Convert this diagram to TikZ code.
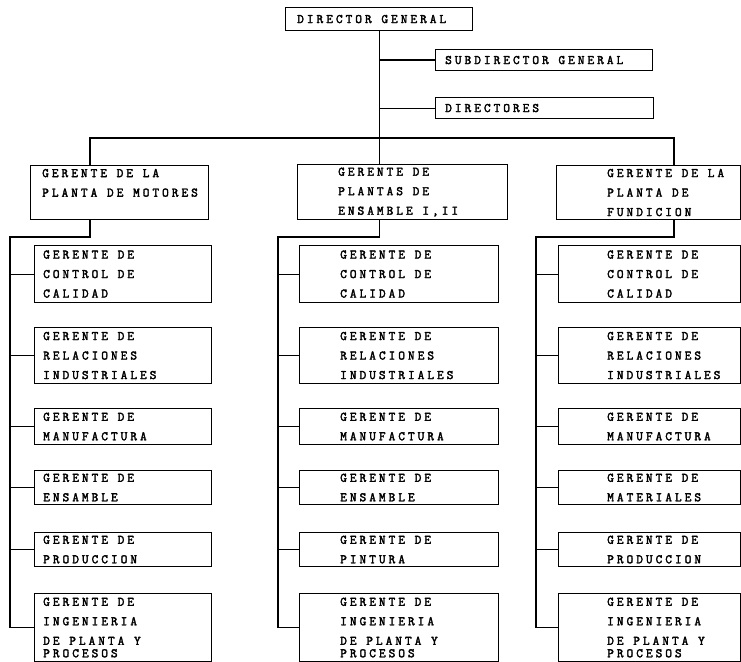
\documentclass[tikz,border=0pt]{standalone}
\usepackage{fontspec}
\setmonofont{Latin Modern Mono}[LetterSpace=23,AutoFakeBold=2.5]
\newcommand\orgfont{\ttfamily\bfseries\fontsize{13}{19.5}\selectfont}

\tikzset{
  orgbox/.style={draw, line width=1.1pt, anchor=north west, inner sep=0pt},
  orgtext/.style={anchor=west, align=left, inner sep=0pt, font=\orgfont},
  orgline/.style={line width=1.1pt},
}

\begin{document}
\begin{tikzpicture}[x=1pt, y=-1pt]
  \useasboundingbox (0,0) rectangle (741,661);
  % ---- Top levels ----
  \node[orgbox, minimum width=187pt, minimum height=23pt,
    label={[orgtext, xshift=12pt]west:DIRECTOR GENERAL}] (dg) at (285,7) {};
  \node[orgbox, minimum width=217pt, minimum height=21pt,
    label={[orgtext, xshift=10pt]west:SUBDIRECTOR GENERAL}] (sub) at (435,49) {};
  \node[orgbox, minimum width=218pt, minimum height=21pt,
    label={[orgtext, xshift=10pt]west:DIRECTORES}] (dirs) at (435,97) {};

  % ---- Plant managers ----
  \node[orgbox, minimum width=178pt, minimum height=54pt,
    label={[orgtext, xshift=12pt]west:GERENTE DE LA\\PLANTA DE MOTORES\\\mbox{}}] (lplant) at (30,165) {};
  \node[orgbox, minimum width=210pt, minimum height=55pt,
    label={[orgtext, xshift=41pt]west:GERENTE DE\\PLANTAS DE\\ENSAMBLE I,II}] (cplant) at (297,164) {};
  \node[orgbox, minimum width=184pt, minimum height=54pt,
    label={[orgtext, xshift=51pt]west:GERENTE DE LA\\PLANTA DE\\FUNDICION}] (rplant) at (556,165) {};

  % ---- Department managers, one column per plant ----
  \foreach \c/\x/\w/\ind/\rowfour/\rowfive in {l/34/177/9/ENSAMBLE/PRODUCCION,
      c/299/199/41/ENSAMBLE/PINTURA, r/558/182/49/MATERIALES/PRODUCCION} {
    \foreach \n/\ty/\bh/\txt in {cal/245/57/{GERENTE DE\\CONTROL DE\\CALIDAD},
        rel/327/56/{GERENTE DE\\RELACIONES\\INDUSTRIALES},
        man/408/36/{GERENTE DE\\MANUFACTURA},
        ens/470/34/{GERENTE DE\\\rowfour},
        pro/532/34/{GERENTE DE\\\rowfive},
        ing/593/68/{GERENTE DE\\INGENIERIA\\DE PLANTA Y\\[-7pt]PROCESOS}} {
      \node[orgbox, minimum width=\w pt, minimum height=\bh pt,
        label={[orgtext, xshift=\ind pt]west:\txt}] (\c\n) at (\x,\ty) {};
    }
  }

  % ---- Trunk and bus ----
  \coordinate (busl) at (90,138);
  \coordinate (busr) at (674,138);
  \draw[orgline] (dg.south) -- (dg.south |- cplant.north);
  \draw[orgline] (dg.south |- sub.west) -- (sub.west);
  \draw[orgline] (dg.south |- dirs.west) -- (dirs.west);
  \draw[orgline] (busl |- lplant.north) -- (busl) -- (busr) -- (busr |- rplant.north);

  % ---- Spines under each plant ----
  \coordinate (lspine) at (10,237);
  \coordinate (cspine) at (278,237);
  \coordinate (rspine) at (536,237);
  \draw[orgline] (busl |- lplant.south) -- (busl |- lspine) -- (lspine) -- (lspine |- ling.west);
  \draw[orgline] (dg.south |- cplant.south) -- (dg.south |- cspine) -- (cspine) -- (cspine |- cing.west);
  \draw[orgline] (busr |- rplant.south) -- (busr |- rspine) -- (rspine) -- (rspine |- ring.west);
  \foreach \c in {l,c,r} {
    \foreach \n in {cal,rel,man,ens,pro,ing} {
      \draw[orgline] (\c spine |- \c\n.west) -- (\c\n.west);
    }
  }
\end{tikzpicture}
\end{document}
